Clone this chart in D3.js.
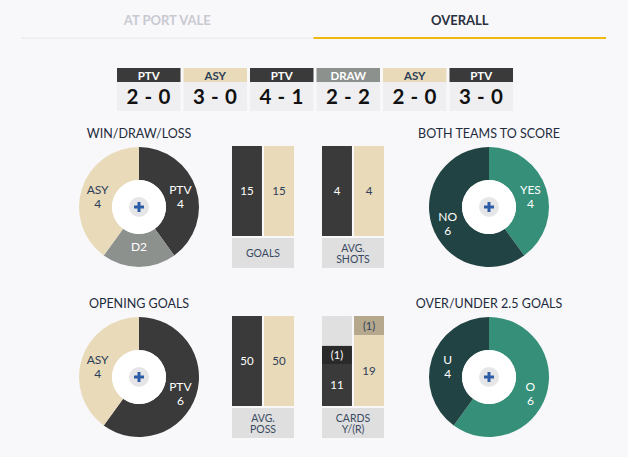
<!DOCTYPE html>
<html>
<head>
<meta charset="utf-8">
<script src="https://cdn.jsdelivr.net/npm/d3@7"></script>
<style>
  html, body { margin: 0; padding: 0; background: #f8f8fa; }
  svg { display: block; font-family: Lato, "Open Sans", sans-serif; }
</style>
</head>
<body>
<svg id="chart" width="628" height="457"></svg>
<script>
// ---- data ----
const tabLabels    = ['AT PORT VALE', 'OVERALL'];
const activeTab    = 'OVERALL';

const formWinners  = ['PTV', 'ASY', 'PTV', 'DRAW', 'ASY', 'PTV'];
const formScores   = ['2 - 0', '3 - 0', '4 - 1', '2 - 2', '2 - 0', '3 - 0'];

const wdlLabels     = ['PTV', 'D', 'ASY'];
const wdlValues     = [4, 2, 4];
const bttsLabels    = ['YES', 'NO'];
const bttsValues    = [4, 6];
const openingLabels = ['PTV', 'ASY'];
const openingValues = [6, 4];
const ouLabels      = ['O', 'U'];
const ouValues      = [6, 4];

const goalsValues  = [15, 15];
const shotsValues  = [4, 4];
const possValues   = [50, 50];
const yellowCards  = [11, 19];
const redCards     = [1, 1];

// ---- colours ----
const colors = {
    PTV: '#3a3a3a', ASY: '#e9dab9', DRAW: '#8c918e', D: '#8c918e',
    YES: '#358f79', NO: '#224343', O: '#358f79', U: '#224343'
};
const lightKeys = ['ASY'];
const navy = '#2c3e58';

const svg = d3.select('#chart');
svg.append('rect').attr('width', 628).attr('height', 457).attr('fill', '#f8f8fa');

/* ---------------- tabs ---------------- */
let tabX = d3.scaleBand().domain(tabLabels).range([21, 606]);

svg.selectAll('text.tab')
    .data(tabLabels)
    .enter()
    .append('text')
    .attr('class', 'tab')
    .attr('x', (d) => tabX(d) + tabX.bandwidth() / 2)
    .attr('y', 24.5)
    .attr('text-anchor', 'middle')
    .attr('font-size', 13)
    .attr('font-weight', 700)
    .attr('fill', (d) => d == activeTab ? '#2b3040' : '#c9c9d1')
    .text((d) => d);

svg.selectAll('rect.tabline')
    .data(tabLabels)
    .enter()
    .append('rect')
    .attr('class', 'tabline')
    .attr('x', (d) => tabX(d))
    .attr('y', (d) => d == activeTab ? 37 : 37.5)
    .attr('width', tabX.bandwidth())
    .attr('height', (d) => d == activeTab ? 2 : 1.5)
    .attr('fill', (d) => d == activeTab ? '#f0b90b' : '#ececef');

/* ---------------- form boxes ---------------- */
let formX = d3.scaleBand()
    .domain(d3.range(formWinners.length))
    .range([117, 513])
    .paddingInner(0.045);

let form = svg.selectAll('g.form')
    .data(formWinners.map((w, i) => ({ winner: w, score: formScores[i], i: i })))
    .enter()
    .append('g')
    .attr('class', 'form')
    .attr('transform', (d) => 'translate(' + formX(d.i) + ',0)');

form.append('rect')
    .attr('y', 68).attr('width', formX.bandwidth()).attr('height', 14)
    .attr('fill', (d) => colors[d.winner]);
form.append('text')
    .attr('x', formX.bandwidth() / 2).attr('y', 79.5)
    .attr('text-anchor', 'middle').attr('font-size', 11.5).attr('font-weight', 700)
    .attr('fill', (d) => lightKeys.includes(d.winner) ? navy : '#ffffff')
    .text((d) => d.winner);
form.append('rect')
    .attr('y', 82).attr('width', formX.bandwidth()).attr('height', 29)
    .attr('fill', '#efeff1');
form.append('text')
    .attr('x', formX.bandwidth() / 2).attr('y', 104)
    .attr('text-anchor', 'middle').attr('font-size', 20.5).attr('font-weight', 700)
    .attr('letter-spacing', 0.6)
    .attr('fill', '#111111')
    .text((d) => d.score);

/* ---------------- donuts ---------------- */
function drawDonut(title, labels, values, cx, cy, singleLine) {
    let g = svg.append('g').attr('transform', 'translate(' + cx + ',' + cy + ')');
    let rOuter = 60, rInner = 27;

    g.append('text')
        .attr('y', -69.5).attr('text-anchor', 'middle')
        .attr('font-size', 12.5).attr('fill', '#1e2b3c')
        .text(title);

    let pie = d3.pie().sort(null).value((d) => d.value);
    let arc = d3.arc().innerRadius(rInner).outerRadius(rOuter);
    let data = pie(labels.map((l, i) => ({ label: l, value: values[i] })));

    g.selectAll('path')
        .data(data)
        .enter()
        .append('path')
        .attr('d', arc)
        .attr('fill', (d) => colors[d.data.label]);

    g.append('circle').attr('r', rInner).attr('fill', '#ffffff');
    g.append('circle').attr('r', 10).attr('fill', '#e6e6e8');
    g.append('rect').attr('x', -5).attr('y', -1.5).attr('width', 10).attr('height', 3).attr('fill', '#2d5ca6');
    g.append('rect').attr('x', -1.5).attr('y', -5).attr('width', 3).attr('height', 10).attr('fill', '#2d5ca6');

    data.forEach((d) => {
        let c = arc.centroid(d);
        let lines = singleLine.includes(d.data.label) ?
            [d.data.label + d.data.value] : [d.data.label, String(d.data.value)];
        let t = g.append('text')
            .attr('text-anchor', 'middle')
            .attr('font-size', 12)
            .attr('fill', lightKeys.includes(d.data.label) ? navy : '#ffffff');
        lines.forEach((l, i) => {
            t.append('tspan').attr('x', c[0]).attr('y', c[1] + 0.5 + i * 14).text(l);
        });
    });
}

drawDonut('WIN/DRAW/LOSS', wdlLabels, wdlValues, 139, 207, ['D']);
drawDonut('BOTH TEAMS TO SCORE', bttsLabels, bttsValues, 489, 207, []);
drawDonut('OPENING GOALS', openingLabels, openingValues, 139, 377, []);
drawDonut('OVER/UNDER 2.5 GOALS', ouLabels, ouValues, 489, 377, []);

/* ---------------- bars ---------------- */
const teams = ['PTV', 'ASY'];
const barH = 90;

function barFrame(x0, top, caption) {
    let g = svg.append('g').attr('transform', 'translate(' + x0 + ',' + top + ')');
    let x = d3.scaleBand().domain(teams).range([0, 62]).paddingInner(0.065);
    g.append('rect').attr('y', barH + 2).attr('width', 62).attr('height', 30).attr('fill', '#dfdfe0');
    let t = g.append('text').attr('text-anchor', 'middle').attr('font-size', 10.5).attr('fill', '#3a4a60');
    caption.forEach((c, i) => {
        let y0 = barH + 2 + 15 + 4 - (caption.length - 1) * 5.5;
        t.append('tspan').attr('x', 31).attr('y', y0 + i * 11).text(c);
    });
    return { g: g, x: x };
}

function drawPair(values, x0, top, caption) {
    let f = barFrame(x0, top, caption);
    let y = d3.scaleLinear().domain([0, d3.max(values)]).range([barH, 0]);
    teams.forEach((team, i) => {
        f.g.append('rect')
            .attr('x', f.x(team)).attr('y', y(values[i]))
            .attr('width', f.x.bandwidth()).attr('height', barH - y(values[i]))
            .attr('fill', colors[team]);
        f.g.append('text')
            .attr('x', f.x(team) + f.x.bandwidth() / 2).attr('y', (y(values[i]) + barH) / 2 + 4)
            .attr('text-anchor', 'middle').attr('font-size', 11.5)
            .attr('fill', lightKeys.includes(team) ? navy : '#ffffff')
            .text(values[i]);
    });
}

drawPair(goalsValues, 232, 146, ['GOALS']);
drawPair(shotsValues, 322, 146, ['AVG.', 'SHOTS']);
drawPair(possValues, 232, 316, ['AVG.', 'POSS']);

// cards: red cards get a fixed block, yellows scale in the rest
(function drawCards() {
    let f = barFrame(322, 316, ['CARDS', 'Y/(R)']);
    let redH = 19;
    let y = d3.scaleLinear().domain([0, d3.max(yellowCards)]).range([barH, redH]);
    let redColors = { PTV: '#2a2a2a', ASY: '#b6a88d' };
    teams.forEach((team, i) => {
        let bx = f.x(team), bw = f.x.bandwidth();
        let yTop = y(yellowCards[i]);
        f.g.append('rect').attr('x', bx).attr('y', 0).attr('width', bw).attr('height', barH).attr('fill', '#e0e0e1');
        f.g.append('rect').attr('x', bx).attr('y', yTop).attr('width', bw).attr('height', barH - yTop)
            .attr('fill', colors[team]);
        f.g.append('rect').attr('x', bx).attr('y', yTop - redH).attr('width', bw).attr('height', redH)
            .attr('fill', redColors[team]);
        let fill = lightKeys.includes(team) ? navy : '#ffffff';
        f.g.append('text').attr('x', bx + bw / 2).attr('y', (yTop + barH) / 2 + 4)
            .attr('text-anchor', 'middle').attr('font-size', 11.5).attr('fill', fill)
            .text(yellowCards[i]);
        f.g.append('text').attr('x', bx + bw / 2).attr('y', yTop - redH / 2 + 4)
            .attr('text-anchor', 'middle').attr('font-size', 11).attr('fill', fill)
            .text('(' + redCards[i] + ')');
    });
})();
</script>
</body>
</html>
